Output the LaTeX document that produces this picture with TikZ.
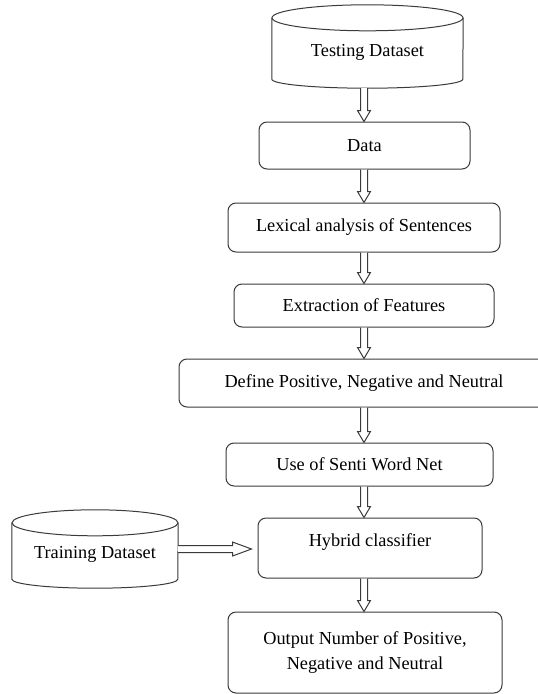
\documentclass[tikz,border=0pt]{standalone}
\usepackage{fontspec}
\setmainfont{Liberation Serif}
\usetikzlibrary{calc}
\definecolor{Ink}{HTML}{3A3A3A}
\newcommand{\drum}[2]{% can outline round node #1, half width #2
  \draw[edge] ($(#1.north west)+(0,-13)$) -- ($(#1.south west)+(0,9)$)
    arc[start angle=180,end angle=360,x radius=#2,y radius=9] -- ($(#1.north east)+(0,-13)$);
  \draw[edge] ($(#1.north)+(0,-13)$) ellipse[x radius=#2,y radius=13];}
\newcommand{\darr}[2]{% hollow arrow down from #1 to #2
  \draw[blk] ($(#1.south -| axis)+(-3.5,0)$) -- ($(#2.north -| axis)+(-3.5,11)$) -- ++(-3,0)
    -- (#2.north -| axis) -- ($(#2.north -| axis)+(6.5,11)$) -- ++(-3,0) -- ($(#1.south -| axis)+(3.5,0)$);}
\tikzset{
  edge/.style={draw=Ink,line width=1pt},
  box/.style={edge,rounded corners=8pt,fill=white,align=center,inner sep=2pt,font=\fontsize{18.3}{25}\selectfont},
  cyl/.style={align=center,inner sep=0pt,text height=23pt,text depth=4pt,font=\fontsize{18.3}{25}\selectfont},
  blk/.style={edge,fill=white,line join=miter},
}
\begin{document}
\begin{tikzpicture}[x=1pt,y=1pt]
\useasboundingbox (0,0) rectangle (538,-694);
\clip (0,0) rectangle (538,-694);
\coordinate (axis) at (364,0);
% stores
\node[cyl,minimum width=191pt,minimum height=83pt] (tst) at (367.5,-46.5) {Testing Dataset};
\drum{tst}{95.5}
\node[cyl,minimum width=166pt,minimum height=78pt] (trn) at (95,-549) {Training Dataset};
\drum{trn}{83}
% steps
\node[box,minimum width=211pt,minimum height=47pt] (dat) at (364.5,-145.5) {Data};
\node[box,minimum width=272pt,minimum height=49pt] (lex) at (364,-227.5) {Lexical analysis of Sentences};
\node[box,minimum width=260pt,minimum height=43pt] (ext) at (364,-305.5) {Extraction of Features};
\node[box,minimum width=370pt,minimum height=48pt] (def) at (364,-383) {Define Positive, Negative and Neutral};
\node[box,minimum width=267pt,minimum height=43pt] (sen) at (359.5,-464.5) {Use of Senti Word Net};
\node[box,minimum width=224pt,minimum height=60pt,text depth=16pt] (hyb) at (370,-548) {Hybrid classifier};
\node[box,minimum width=274pt,minimum height=81pt] (out) at (365,-652.5) {Output Number of Positive,\\Negative and Neutral};
% arrows
\darr{tst}{dat}
\darr{dat}{lex}
\darr{lex}{ext}
\darr{ext}{def}
\darr{def}{sen}
\darr{sen}{hyb}
\darr{hyb}{out}
\draw[blk] ($(trn.east)+(0,3.5)$) -- ($(hyb.west |- trn.east)+(-25,3.5)$) -- ++(0,3.5)
  -- ($(hyb.west |- trn.east)+(-6,0)$) -- ($(hyb.west |- trn.east)+(-25,-7)$) -- ++(0,3.5) -- ($(trn.east)+(0,-3.5)$);
\end{tikzpicture}
\end{document}
